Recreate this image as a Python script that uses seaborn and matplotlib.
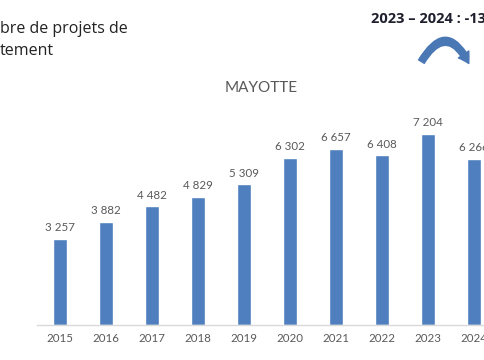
import pandas as pd
import seaborn as sns
import matplotlib.pyplot as plt
from matplotlib.patches import FancyArrowPatch

# Data
years = ['2015', '2016', '2017', '2018', '2019', '2020', '2021', '2022', '2023', '2024']
projets = [3257, 3882, 4482, 4829, 5309, 6302, 6657, 6408, 7204, 6266]
labels = ['3 257', '3 882', '4 482', '4 829', '5 309', '6 302', '6 657', '6 408', '7 204', '6 266']

df = pd.DataFrame({'annee': years, 'projets': projets})

sns.set_style('white')
plt.rcParams['font.family'] = ['Lato', 'DejaVu Sans']

fig = plt.figure(figsize=(4.85, 3.6), dpi=100)
ax = fig.add_axes([37 / 485, 35 / 360, 1 - 37 / 485, 225 / 360])

sns.barplot(x='annee', y='projets', data=df, color='#4f7fbe', width=0.31,
            saturation=1, ax=ax)

for i, lab in enumerate(labels):
    ax.text(i, projets[i] + 220, lab, ha='center', va='bottom',
            fontsize=8.3, color='#595959')

ax.set_xlim(-0.5, 9.24)
ax.set_ylim(0, 8500)
ax.set_xlabel('')
ax.set_ylabel('')
ax.set_yticks([])
ax.tick_params(axis='x', length=0, labelsize=8.3, labelcolor='#595959', pad=6)
for side in ['top', 'right', 'left']:
    ax.spines[side].set_visible(False)
ax.spines['bottom'].set_color('#d9d9d9')
ax.spines['bottom'].set_linewidth(1)

ax.set_title('MAYOTTE', fontsize=11, color='#595959', pad=0, y=1.035)

# Slide text around the chart (cropped by the slide edges)
fig.text(0.0, 1 - 40 / 360, 'bre de projets de\ntement', ha='left', va='center',
         fontsize=11.5, color='#222222', linespacing=1.45, family=['Open Sans', 'DejaVu Sans'])
fig.text(371 / 485, 1 - 19 / 360, '2023 – 2024 : -13', ha='left', va='center',
         fontsize=10.5, fontweight='bold', color='#1f1f2e', family=['Open Sans', 'DejaVu Sans'])

arrow = FancyArrowPatch((420 / 485, 1 - 64 / 360), (470 / 485, 1 - 66 / 360),
                        transform=fig.transFigure, connectionstyle='arc3,rad=-0.95',
                        arrowstyle='simple,head_width=6,head_length=5,tail_width=3.2',
                        color='#4a78b5', mutation_scale=1.5)
fig.patches.append(arrow)

fig.savefig('out.png', dpi=100)
